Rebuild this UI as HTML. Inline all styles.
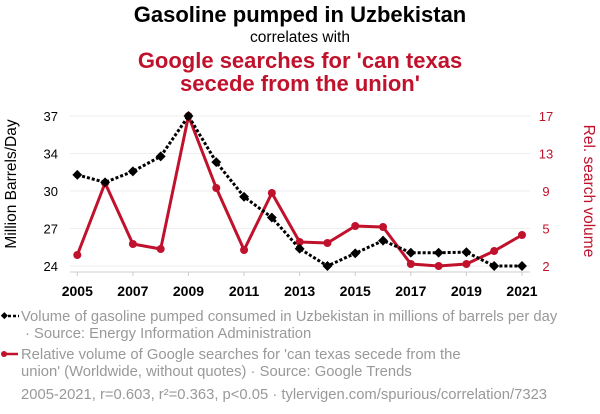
<!DOCTYPE html>
<html><head><meta charset="utf-8"><style>
body{margin:0;background:#fff;font-family:"Liberation Sans",sans-serif;}
svg{display:block}
</style></head><body>
<svg id="c" width="600" height="414" xmlns="http://www.w3.org/2000/svg">
<text x="300" y="22" text-anchor="middle" font-size="22" font-weight="bold" fill="#000">Gasoline pumped in Uzbekistan</text>
<text x="300" y="42" text-anchor="middle" font-size="15.5" fill="#000">correlates with</text>
<text x="300" y="68" text-anchor="middle" font-size="22" font-weight="bold" fill="#c0122c">Google searches for 'can texas</text>
<text x="300" y="91" text-anchor="middle" font-size="22" font-weight="bold" fill="#c0122c">secede from the union'</text>
<text transform="translate(16,184) rotate(-90)" text-anchor="middle" font-size="15.5" fill="#000">Million Barrels/Day</text>
<text transform="translate(584,191) rotate(90)" text-anchor="middle" font-size="15.5" fill="#c0122c">Rel. search volume</text>
<g id="grid"></g><g id="axes"></g><g id="marks"></g>
<g>
<line x1="3" y1="316" x2="19" y2="316" stroke="#000" stroke-width="2.5" stroke-dasharray="3,2"/>
<rect x="1.5" y="313" width="5" height="5" transform="rotate(45 4 316)" fill="#000"/>
<text x="21" y="321" font-size="14.8" fill="#999">Volume of gasoline pumped consumed in Uzbekistan in millions of barrels per day</text>
<text x="25" y="338" font-size="14.8" fill="#999">· Source: Energy Information Administration</text>
</g>
<g>
<line x1="3" y1="354" x2="18" y2="354" stroke="#c0122c" stroke-width="2.5"/>
<circle cx="4" cy="354" r="3" fill="#c0122c"/>
<text x="21" y="359" font-size="14.8" fill="#999">Relative volume of Google searches for 'can texas secede from the</text>
<text x="21" y="376" font-size="14.8" fill="#999">union' (Worldwide, without quotes) · Source: Google Trends</text>
</g>
<text x="21" y="399" font-size="14.8" fill="#999">2005-2021, r=0.603, r²=0.363, p&lt;0.05 · tylervigen.com/spurious/correlation/7323</text>
</svg>
<script>
const years=[2005,2006,2007,2008,2009,2010,2011,2012,2013,2014,2015,2016,2017,2018,2019,2020,2021];
const gasoline=[31.9,31.25,32.2,33.5,37,33.0,30.0,28.2,25.5,24,25.1,26.2,25.15,25.15,25.2,24,24];
const searches=[3.1,10.3,4.2,3.7,17,9.8,3.6,9.3,4.4,4.3,6.0,5.9,2.2,2.0,2.2,3.5,5.1];
const leftTicks=[24,27.25,30.5,33.75,37];
const leftLabels=["24","27","30","34","37"];
const rightTicks=[2,5.75,9.5,13.25,17];
const rightLabels=["2","5","9","13","17"];
const xLabels=[2005,2007,2009,2011,2013,2015,2017,2019,2021];
const NS="http://www.w3.org/2000/svg";
const X=y=>77.3+(y-2005)*(522-77.3)/16;
const YL=v=>266-(v-24)/13*150;
const YR=v=>266-(v-2)/15*150;
function mk(t,a,p){const e=document.createElementNS(NS,t);for(const k in a)e.setAttribute(k,a[k]);p.appendChild(e);return e;}
const grid=document.getElementById('grid'),axes=document.getElementById('axes'),marks=document.getElementById('marks');
leftTicks.forEach((v,i)=>{
 const g=mk('line',{x1:70,x2:530,y1:YL(v),y2:YL(v),stroke:'#eee','stroke-width':1},grid);
 
 
 const t=mk('text',{x:58,y:YL(v)+5,'text-anchor':'end','font-size':13,fill:'#000'},axes);t.textContent=leftLabels[i];
 
 
});
rightTicks.forEach((v,i)=>{
 const t=mk('text',{x:546,y:YR(v)+5,'text-anchor':'middle','font-size':13,fill:'#c0122c'},axes);t.textContent=rightLabels[i];
 
 
});
const ax=mk('line',{x1:70,x2:530,y1:272,y2:272,stroke:'#ccc','stroke-width':1},axes);


xLabels.forEach(y=>{
 mk('line',{x1:X(y),x2:X(y),y1:272,y2:276,stroke:'#ccc'},axes);
 const t=mk('text',{x:X(y),y:296,'text-anchor':'middle','font-size':14,'font-weight':'bold',fill:'#000'},axes);t.textContent=y;
 
 
});
const rp=mk('polyline',{points:years.map((y,i)=>X(y)+','+YR(searches[i])).join(' '),fill:'none',stroke:'#c0122c','stroke-width':3,'stroke-linejoin':'round'},marks);


years.forEach((y,i)=>{const c=mk('circle',{cx:X(y),cy:YR(searches[i]),r:4,fill:'#c0122c'},marks);
 
 });
const bp=mk('polyline',{points:years.map((y,i)=>X(y)+','+YL(gasoline[i])).join(' '),fill:'none',stroke:'#000','stroke-width':3,'stroke-dasharray':'3,2'},marks);


years.forEach((y,i)=>{const cx=X(y),cy=YL(gasoline[i]);
 const d=mk('rect',{x:cx-3.5,y:cy-3.5,width:7,height:7,fill:'#000',transform:`rotate(45 ${cx} ${cy})`},marks);
 
 });
</script>
</body></html>
